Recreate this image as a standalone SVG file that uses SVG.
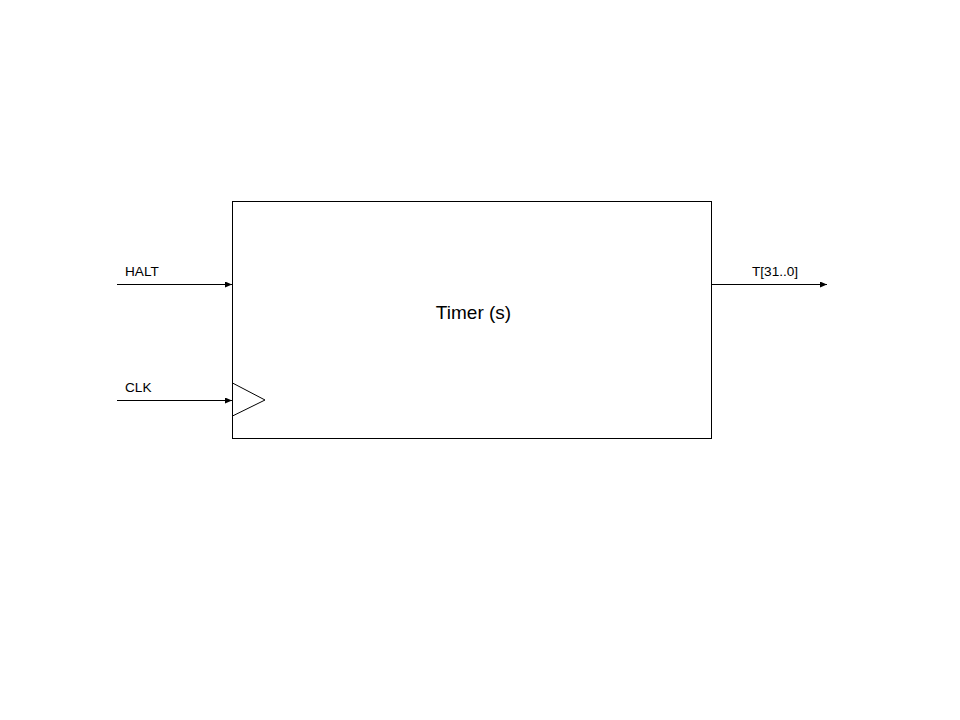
<svg xmlns="http://www.w3.org/2000/svg" width="960" height="720" viewBox="0 0 960 720">
<style>
.l{stroke:#000;stroke-width:1;fill:none}
.t{font-family:"Liberation Sans",Arial,sans-serif;fill:#000}
.s{font-size:13.6px}
</style>
<defs>
<marker id="a" markerWidth="7" markerHeight="6" refX="7" refY="3" orient="auto" markerUnits="userSpaceOnUse"><path d="M0,0 L7,3 L0,6 Z" fill="#000"/></marker>
</defs>
<rect width="960" height="720" fill="#fff"/>
<g id="timer">
<rect x="232.5" y="201.5" width="479" height="237" class="l"/>
<polyline points="232.5,383 265,400 232.5,416" class="l"/>
<text x="473.5" y="319" text-anchor="middle" class="t" font-size="19">Timer (s)</text>
</g>
<g id="connectors">
<line x1="117" y1="284.5" x2="232" y2="284.5" class="l" marker-end="url(#a)"/>
<line x1="117" y1="400.5" x2="232" y2="400.5" class="l" marker-end="url(#a)"/>
<line x1="712" y1="284.5" x2="827" y2="284.5" class="l" marker-end="url(#a)"/>
</g>
<g id="labels">
<text x="125" y="276" class="t s">HALT</text>
<text x="125" y="392" class="t s">CLK</text>
<text x="752" y="276" class="t s">T[31..0]</text>
</g>
</svg>
